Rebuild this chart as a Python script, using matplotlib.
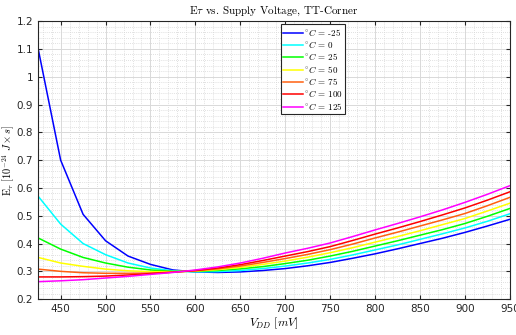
import numpy as np
import matplotlib
matplotlib.use("Agg")
import matplotlib.pyplot as plt
from matplotlib.ticker import MultipleLocator

plt.rcParams["mathtext.fontset"] = "cm"
plt.rcParams["axes.unicode_minus"] = False

# supply voltage sweep [mV]
vdd = [425, 450, 475, 500, 525, 550, 575, 600, 625, 650, 675,
       700, 725, 750, 775, 800, 825, 850, 875, 900, 925, 950]

# E*tau [1e-24 J*s] per temperature
et_m25 = [1.100, 0.700, 0.505, 0.410, 0.355, 0.325, 0.305, 0.298, 0.296, 0.298, 0.303,
          0.310, 0.320, 0.332, 0.347, 0.363, 0.381, 0.400, 0.419, 0.440, 0.463, 0.487]
et_0   = [0.570, 0.470, 0.400, 0.360, 0.330, 0.312, 0.302, 0.298, 0.299, 0.303, 0.310,
          0.319, 0.330, 0.343, 0.359, 0.377, 0.395, 0.415, 0.435, 0.456, 0.480, 0.507]
et_25  = [0.420, 0.380, 0.350, 0.330, 0.315, 0.305, 0.300, 0.300, 0.303, 0.309, 0.317,
          0.328, 0.340, 0.355, 0.372, 0.391, 0.410, 0.430, 0.450, 0.472, 0.498, 0.526]
et_50  = [0.350, 0.330, 0.318, 0.308, 0.302, 0.299, 0.299, 0.301, 0.306, 0.314, 0.325,
          0.337, 0.351, 0.367, 0.385, 0.405, 0.425, 0.446, 0.468, 0.490, 0.517, 0.545]
et_75  = [0.308, 0.300, 0.295, 0.293, 0.293, 0.294, 0.297, 0.302, 0.309, 0.319, 0.332,
          0.346, 0.361, 0.378, 0.398, 0.420, 0.441, 0.463, 0.485, 0.508, 0.536, 0.566]
et_100 = [0.280, 0.280, 0.281, 0.283, 0.287, 0.292, 0.297, 0.303, 0.312, 0.324, 0.339,
          0.355, 0.371, 0.389, 0.411, 0.434, 0.456, 0.479, 0.503, 0.528, 0.556, 0.586]
et_125 = [0.263, 0.266, 0.270, 0.276, 0.282, 0.289, 0.296, 0.305, 0.316, 0.330, 0.347,
          0.366, 0.383, 0.402, 0.425, 0.449, 0.472, 0.496, 0.521, 0.548, 0.577, 0.608]

temps = ["-25", "0", "25", "50", "75", "100", "125"]
series = [et_m25, et_0, et_25, et_50, et_75, et_100, et_125]
colors = ["#0000ff", "#00ffff", "#00ff00", "#ffff00", "#ff6010", "#ff0000", "#ff00ff"]

fig = plt.figure(figsize=(5.16, 3.35), dpi=100)
ax = fig.add_axes([0.074, 0.107, 0.914, 0.830])

for y, t, c in zip(series, temps, colors):
    ax.plot(vdd, y, color=c, lw=1.1, label=r"$^{\circ}C$ = " + t)

ax.set_xlim(425, 950)
ax.set_ylim(0.2, 1.2)
ax.xaxis.set_major_locator(MultipleLocator(50))
ax.xaxis.set_minor_locator(MultipleLocator(10))
ax.yaxis.set_major_locator(MultipleLocator(0.1))
ax.yaxis.set_minor_locator(MultipleLocator(0.02))
ax.yaxis.set_major_formatter(plt.FuncFormatter(lambda v, p: f"{v:g}"))

ax.grid(which="major", color="#d9d9d9", lw=0.7)
ax.grid(which="minor", color="#d6d6d6", lw=0.6, ls=(0, (1, 1.5)))
ax.set_axisbelow(True)
ax.tick_params(which="both", direction="in", labelsize=7.5, colors="#262626",
               top=True, right=True)
ax.tick_params(which="major", length=3)
ax.tick_params(which="minor", length=0)
for s in ax.spines.values():
    s.set_color("#262626")
    s.set_linewidth(0.8)

ax.set_title(r"E$\tau$ vs. Supply Voltage, TT-Corner", fontsize=8,
             family="cmr10", pad=5)
ax.set_xlabel(r"$V_{DD}\ [mV]$", fontsize=8.5, labelpad=1)
ax.set_ylabel(r"E$_\tau$ $[10^{-24}\ J \times s]$", fontsize=7.5, family="cmr10")
ax.yaxis.set_label_coords(-0.045, 0.5)

leg = ax.legend(loc="upper left", bbox_to_anchor=(0.515, 0.988),
                prop={"family": "cmr10", "size": 6.5},
                handlelength=2.2, handletextpad=0.1, labelspacing=0.15,
                borderpad=0.25, borderaxespad=0, fancybox=False, framealpha=1)
leg.get_frame().set_edgecolor("#262626")
leg.get_frame().set_linewidth(0.8)

fig.savefig("out.png", dpi=100)
